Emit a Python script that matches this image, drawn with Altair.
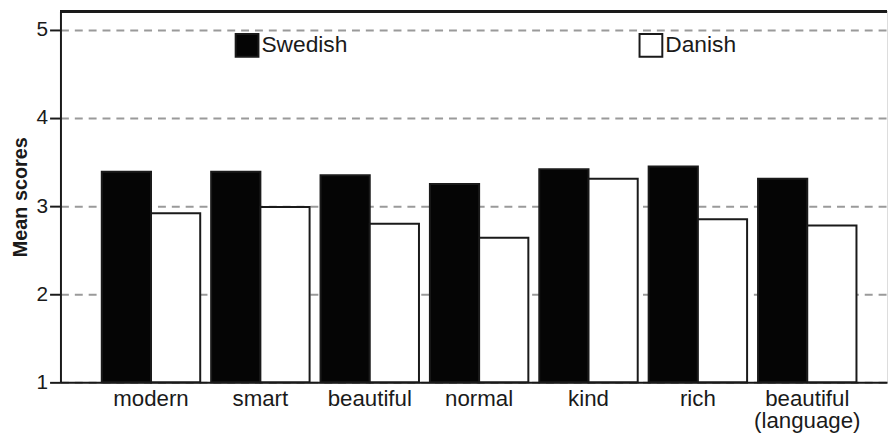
import altair as alt
import pandas as pd

categories = ["modern", "smart", "beautiful", "normal", "kind", "rich", "beautiful (language)"]
swedish = [3.39, 3.39, 3.35, 3.25, 3.42, 3.45, 3.31]
danish = [2.92, 2.99, 2.80, 2.64, 3.31, 2.85, 2.78]
groups = ["Swedish", "Danish"]
y_ticks = [1, 2, 3, 4, 5]

rows = []
for c, s, d in zip(categories, swedish, danish):
    rows.append({"cat": c, "group": "Swedish", "value": s, "base": 1})
    rows.append({"cat": c, "group": "Danish", "value": d, "base": 1})
df = pd.DataFrame(rows)

FONT = "Liberation Sans"
W, H = 835, 375
INK = "#1a1a1a"

bars = alt.Chart(df).mark_bar(stroke=INK, strokeWidth=2).encode(
    x=alt.X("cat:N", sort=categories, title=None,
            scale=alt.Scale(paddingInner=0.1, paddingOuter=0.3285, align=0.575),
            axis=alt.Axis(labelAngle=0, ticks=False, labelFontSize=22.5, labelFont=FONT,
                          labelColor=INK, labelPadding=5, domainColor=INK, domainWidth=2,
                          labelExpr="split(datum.label, ' ')", labelLineHeight=22.5,
                          labelBaseline="top")),
    xOffset=alt.XOffset("group:N", sort=groups,
                        scale=alt.Scale(paddingInner=0, paddingOuter=0)),
    y=alt.Y("value:Q", title="Mean scores",
            scale=alt.Scale(domain=[1, 5.213], zero=False, nice=False),
            axis=alt.Axis(values=y_ticks, format="d", grid=True, gridDash=[8, 6],
                          gridColor="#9a9a9a", gridWidth=2, tickSize=11, tickColor=INK,
                          tickWidth=2, domainColor=INK, domainWidth=2, labelFontSize=21,
                          labelFont=FONT, labelColor=INK, labelPadding=2,
                          titleFont=FONT, titleFontSize=20, titleFontWeight="bold",
                          titleColor=INK, titlePadding=6)),
    y2="base:Q",
    fill=alt.Fill("group:N", sort=groups,
                  scale=alt.Scale(domain=groups, range=["#050505", "#ffffff"]),
                  legend=alt.Legend(title=None, orient="none", legendX=176, legendY=22,
                                    direction="horizontal", symbolType="square",
                                    symbolSize=529, symbolStrokeColor=INK,
                                    symbolStrokeWidth=2, labelFontSize=23, labelFont=FONT,
                                    labelColor=INK, labelOffset=2, columnPadding=291,
                                    padding=0)),
)

frame_top = alt.Chart(df).mark_rule(color=INK, strokeWidth=2).encode(
    x=alt.value(0), x2=alt.value(W), y=alt.value(0)
)

chart = alt.layer(bars, frame_top).properties(
    width=W, height=H,
    padding={"left": 2, "top": 0, "right": 0, "bottom": 0},
).configure_view(stroke=None).configure(background="white")

chart.save("out.html", embed_options={"renderer": "svg", "actions": False})
